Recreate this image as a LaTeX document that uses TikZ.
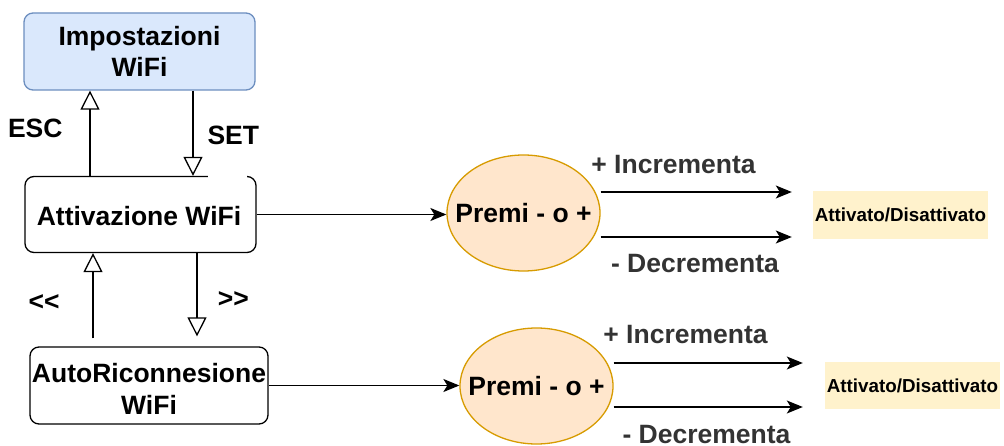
\documentclass[tikz,border=0pt]{standalone}
\usepackage{fontspec}
\setmainfont{Liberation Sans}
\usetikzlibrary{arrows.meta,shapes.geometric}
\definecolor{blueF}{HTML}{DAE8FC}
\definecolor{blueD}{HTML}{6C8EBF}
\definecolor{orF}{HTML}{FFE6CC}
\definecolor{orD}{HTML}{D79B00}
\definecolor{yelF}{HTML}{FFF2CC}
\definecolor{lblC}{HTML}{333333}
\tikzset{
  bigtxt/.style={font=\fontsize{26.5}{31.7}\selectfont\bfseries},
  stbox/.style={draw=black, line width=1.3pt, rounded corners=9pt, minimum width=#1, bigtxt, align=center, inner sep=0pt},
  ell/.style={ellipse, draw=orD, fill=orF, line width=1.3pt, minimum width=153pt, minimum height=116pt, inner sep=0pt, bigtxt},
  ybox/.style={fill=yelF, minimum width=175pt, minimum height=48pt, inner sep=0pt, font=\fontsize{18.8}{22}\selectfont\bfseries},
  lbl/.style={bigtxt, anchor=base, inner sep=0pt},
  glbl/.style={lbl, text=lblC},
  openarr/.style={line width=1.3pt, -{Triangle[open, length=19pt, width=19pt, line width=1.3pt]}},
  arr/.style={line width=1.4pt, -{Stealth[length=16pt, width=13pt, inset=4pt]}}
}
\begin{document}
\begin{tikzpicture}[x=1pt,y=-1pt]
\useasboundingbox (0,0) rectangle (1004,446);
% boxes
\node[stbox=231pt, minimum height=77pt, fill=blueF, draw=blueD] (imp) at (139.5,51.5) {Impostazioni\\WiFi};
\node[stbox=231pt, minimum height=76pt] (att) at (140.5,214.5) {};
\node[bigtxt, anchor=base] (atttxt) at (139,226) {Attivazione WiFi};
\fill[white] (208,174) rectangle (247,179);
\node[stbox=238pt, minimum height=77pt, fill=white] (auto) at (149,385.5) {};
\node[bigtxt, align=center, inner sep=0pt] (autotxt) at (149,389) {AutoRiconnesione\\WiFi};
% ellipses
\node[ell] (e1) at (523.5,213) {};
\node[lbl] (e1t) at (523.5,223) {Premi - o +};
\node[ell] (e2) at (536.5,386) {};
\node[lbl] (e2t) at (536.5,395.5) {Premi - o +};
% yellow boxes
\node[ybox] (y1) at (900.5,215) {Attivato/Disattivato};
\node[ybox, minimum height=47pt] (y2) at (912.5,385.5) {Attivato/Disattivato};
% vertical connectors
\draw[openarr] ([xshift=-50.5pt]att.north) -- ([xshift=-49.5pt]imp.south);
\draw[openarr] ([xshift=53.5pt]imp.south) -- ([xshift=52.5pt]att.north);
\draw[openarr, shorten <=8pt] ([xshift=-56pt]auto.north) -- ([xshift=-47.5pt]att.south);
\draw[openarr, shorten >=10pt] ([xshift=56.5pt]att.south) -- ([xshift=48pt]auto.north);
% horizontal connectors
\draw[arr] (att.east) -- (att.east -| e1.west);
\draw[arr] (auto.east) -- (auto.east -| e2.west);
\draw[arr, shorten >=21pt] ([yshift=21pt]e1.east) -- ([yshift=21pt]e1.east -| y1.west);
\draw[arr, shorten >=21pt] ([yshift=-24pt]e1.east) -- ([yshift=-24pt]e1.east -| y1.west);
\draw[arr, shorten >=22pt] ([yshift=23pt]e2.east) -- ([yshift=23pt]e2.east -| y2.west);
\draw[arr, shorten >=22pt] ([yshift=-21pt]e2.east) -- ([yshift=-21pt]e2.east -| y2.west);
% labels
\node[lbl] (esc) at (35.3,138) {ESC};
\node[lbl] (set) at (233.3,145) {SET};
\node[lbl] (ll) at (44,311) {{<}{<}};
\node[lbl] (gg) at (233.3,308) {{>}{>}};
\node[glbl] (inc1) at (673.5,174) {+ Incrementa};
\node[glbl] (dec1) at (695,273) {- Decrementa};
\node[glbl] (inc2) at (685.5,344) {+ Incrementa};
\node[glbl] (dec2) at (706.5,443.5) {- Decrementa};
\end{tikzpicture}
\end{document}
